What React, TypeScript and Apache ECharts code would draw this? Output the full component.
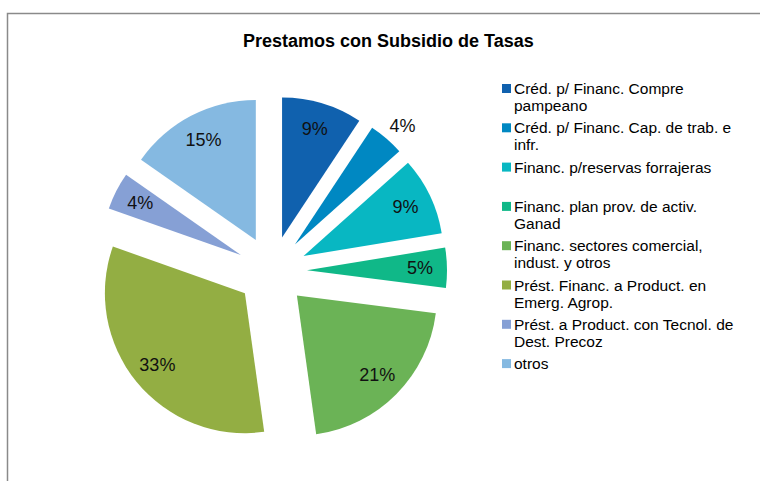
import React, { useEffect, useRef } from 'react';
import * as echarts from 'echarts';

const TITLE = 'Prestamos con Subsidio de Tasas';
const categories = [
  'Créd. p/ Financ. Compre pampeano',
  'Créd. p/ Financ. Cap. de trab. e infr.',
  'Financ. p/reservas forrajeras',
  'Financ. plan prov. de activ. Ganad',
  'Financ. sectores comercial, indust. y otros',
  'Prést. Financ. a Product. en Emerg. Agrop.',
  'Prést. a Product. con Tecnol. de Dest. Precoz',
  'otros',
];
const legendLines = [
  'Créd. p/ Financ. Compre\npampeano',
  'Créd. p/ Financ. Cap. de trab. e\ninfr.',
  'Financ. p/reservas forrajeras',
  'Financ. plan prov. de activ.\nGanad',
  'Financ. sectores comercial,\nindust. y otros',
  'Prést. Financ. a Product. en\nEmerg. Agrop.',
  'Prést. a Product. con Tecnol. de\nDest. Precoz',
  'otros',
];
const values = [9.3, 4.1, 9.0, 4.6, 20.8, 32.6, 4.3, 15.3];
const colors = ['#1061AE', '#0088C2', '#08B7C2', '#10B888', '#6BB356', '#93AE43', '#86A0D5', '#85B9E1'];

const FONT = "'Liberation Sans', Arial, sans-serif";

export default function App() {
  const ref = useRef<HTMLDivElement>(null);
  useEffect(() => {
    if (!ref.current) return;
    const chart = echarts.init(ref.current, undefined, { renderer: 'svg' });
    const center = [272, 271];
    const R = 140;
    const offset = 35;

    const legendGraphics: any[] = [];
    legendLines.forEach((txt, i) => {
      const cy = 88.5 + 39.3 * i;
      legendGraphics.push({
        type: 'rect',
        shape: { x: 502, y: cy - 4.5, width: 9, height: 9 },
        style: { fill: colors[i] },
        silent: true,
      });
      legendGraphics.push({
        type: 'text',
        x: 514,
        y: cy - 8.5,
        style: {
          text: txt,
          font: `15.5px ${FONT}`,
          fill: '#000',
          lineHeight: 17,
          verticalAlign: 'top',
          align: 'left',
        },
        silent: true,
      });
    });

    chart.setOption({
      animation: false,
      backgroundColor: '#fff',
      title: {
        text: TITLE,
        left: 243,
        top: 32,
        padding: 0,
        textStyle: { fontFamily: FONT, fontSize: 18, fontWeight: 'bold', color: '#000' },
      },
      graphic: [
        {
          type: 'rect',
          shape: { x: 7.5, y: 13.5, width: 820, height: 520 },
          style: { fill: 'none', stroke: '#8a8a8a', lineWidth: 1.5 },
          silent: true,
        },
        ...legendGraphics,
      ],
      series: [
        {
          type: 'pie',
          center,
          radius: [0, R],
          startAngle: 90,
          clockwise: true,
          selectedMode: 'multiple',
          selectedOffset: offset,
          avoidLabelOverlap: false,
          label: { show: false },
          labelLine: { show: false },
          emphasis: { disabled: true },
          select: { itemStyle: { borderWidth: 0 } },
          itemStyle: { borderWidth: 0 },
          data: values.map((v, i) => ({
            name: categories[i],
            value: v,
            selected: true,
            itemStyle: { color: colors[i] },
          })),
        },
        {
          type: 'pie',
          center,
          radius: [80, R],
          startAngle: 90,
          clockwise: true,
          silent: true,
          selectedMode: 'multiple',
          selectedOffset: offset,
          avoidLabelOverlap: false,
          itemStyle: { color: 'rgba(0,0,0,0)', borderWidth: 0 },
          emphasis: { disabled: true },
          select: { itemStyle: { color: 'rgba(0,0,0,0)', borderWidth: 0 } },
          label: {
            show: true,
            position: 'inside',
            formatter: (p: any) => Math.round(p.percent) + '%',
            fontFamily: FONT,
            fontSize: 18,
            color: '#111',
          },
          labelLine: { show: false },
          data: values.map((v, i) => {
            const item: any = { name: categories[i], value: v, selected: true };
            if (i === 1) {
              item.label = { position: 'outside', distanceToLabelLine: -8 };
              item.labelLine = { show: false, length: 17, length2: 0 };
            }
            return item;
          }),
        },
      ],
    });
    return () => chart.dispose();
  }, []);
  return (
    <div
      ref={ref}
      style={{ position: 'absolute', left: 0, top: 0, width: 760, height: 481 }}
    />
  );
}
